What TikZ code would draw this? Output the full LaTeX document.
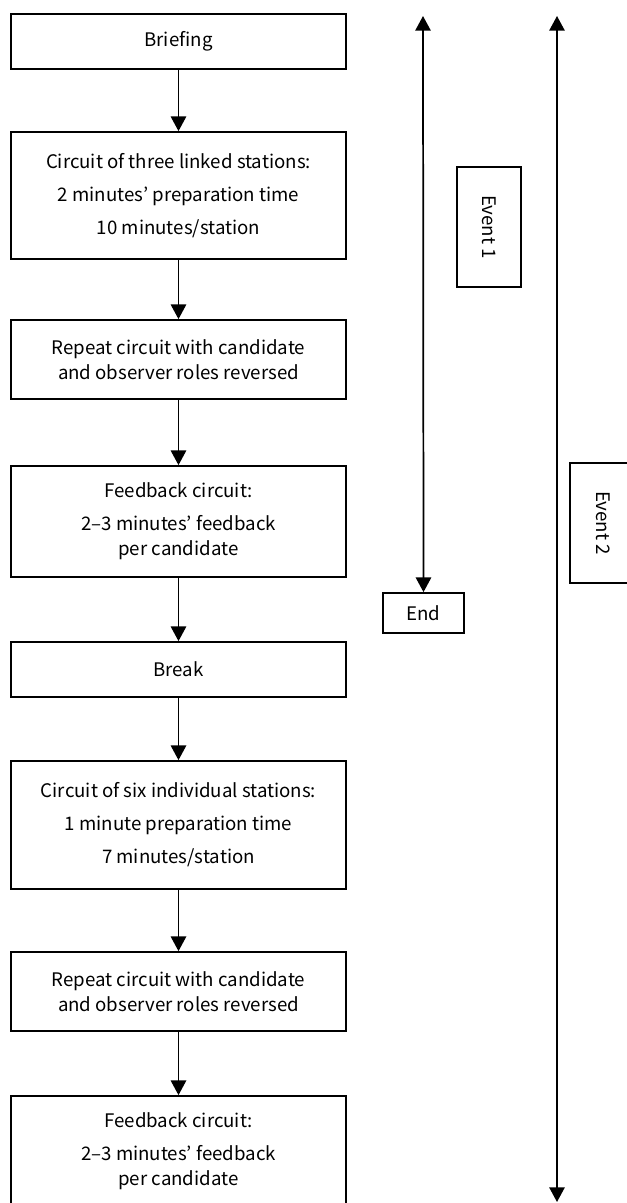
\documentclass[tikz,border=0pt]{standalone}
\usepackage{fontspec}
\setmainfont{Noto Sans CJK KR}
\usetikzlibrary{arrows.meta}
\begin{document}
\begin{tikzpicture}[x=0.75pt,y=-0.75pt,
  every node/.style={font=\fontsize{14}{18.75}\selectfont, inner sep=0pt},
  stage/.style={draw, line width=1.3pt, minimum width=251.25pt, align=center},
  tag/.style={draw, line width=1.3pt, align=center},
  flow/.style={line width=1.3pt, -{Triangle[width=11.5pt,length=11pt]}},
  span/.style={line width=1.3pt, {Triangle[width=11.5pt,length=11pt]}-{Triangle[width=11.5pt,length=11pt]}}]
\useasboundingbox (0,0) rectangle (626,1203);

% main sequence of stages
\node[stage, minimum height=41.25pt] (brief) at (178.5,41.5) {Briefing};
\node[stage, minimum height=95.25pt] (linked) at (178.5,195.5)
  {Circuit of three linked stations:\\[6pt] 2 minutes’ preparation time\\[6pt] 10 minutes/station};
\node[stage, minimum height=59.25pt] (rep1) at (178.5,359.5)
  {Repeat circuit with candidate\\ and observer roles reversed};
\node[stage, minimum height=83.25pt] (fb1) at (178.5,521.5)
  {Feedback circuit:\\[6pt] 2–3 minutes’ feedback\\ per candidate};
\node[stage, minimum height=41.25pt] (brk) at (178.5,669.5) {Break};
\node[stage, minimum height=96pt] (indiv) at (178.5,825)
  {Circuit of six individual stations:\\[6pt] 1 minute preparation time\\[6pt] 7 minutes/station};
\node[stage, minimum height=59.25pt] (rep2) at (178.5,991.5)
  {Repeat circuit with candidate\\ and observer roles reversed};
\node[stage, minimum height=83.25pt] (fb2) at (178.5,1151.5)
  {Feedback circuit:\\[6pt] 2–3 minutes’ feedback\\ per candidate};

\draw[flow] (brief) -- (linked);
\draw[flow] (linked) -- (rep1);
\draw[flow] (rep1) -- (fb1);
\draw[flow] (fb1) -- (brk);
\draw[flow] (brk) -- (indiv);
\draw[flow] (indiv) -- (rep2);
\draw[flow] (rep2) -- (fb2);

% event spans
\node[tag, minimum width=60.75pt, minimum height=30pt] (endbox) at (423.5,613) {End};
\coordinate (e1top) at (423,16);
\draw[span] (e1top) -- (endbox.north);
\node[tag, rotate=-90, minimum width=90pt, minimum height=48pt] (ev1) at (489,227) {Event 1};

\coordinate (e2top) at (557,16);
\coordinate (e2bot) at (557,1202);
\draw[span] (e2top) -- (e2bot);
\node[tag, rotate=-90, minimum width=90pt, minimum height=50pt] (ev2) at (603,523) {Event 2};
\end{tikzpicture}
\end{document}
